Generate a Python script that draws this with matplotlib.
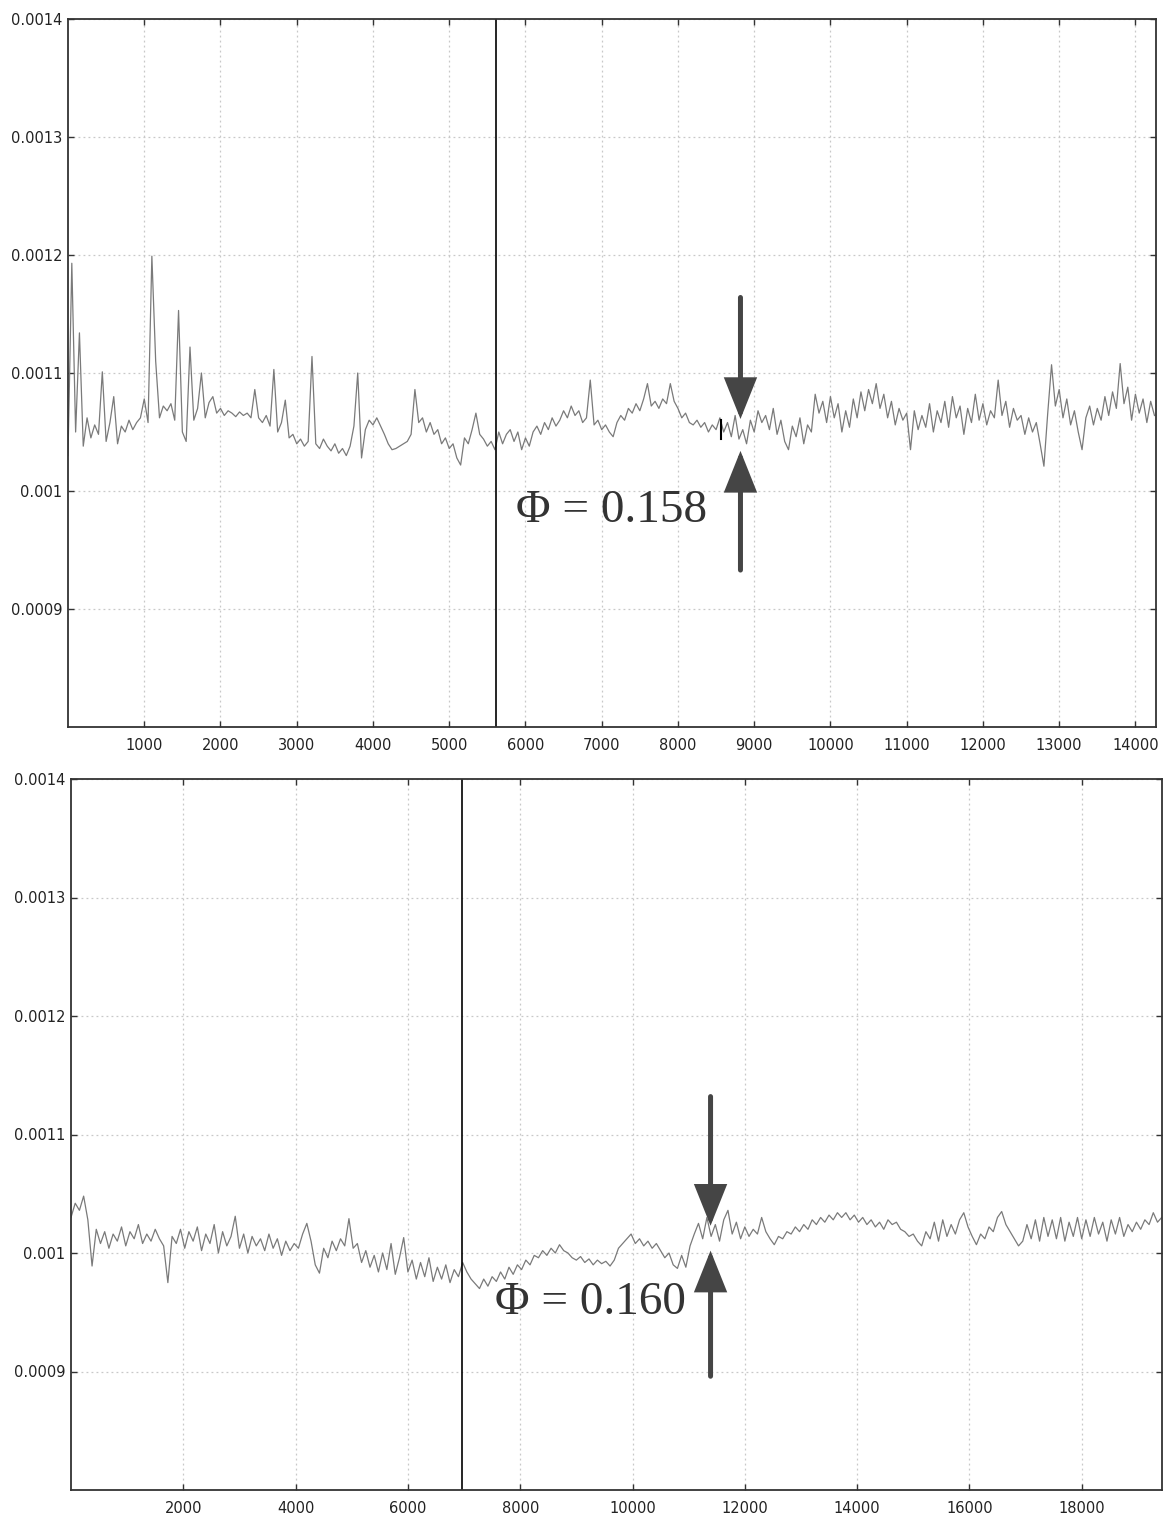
import numpy as np
import matplotlib
matplotlib.use("Agg")
import matplotlib.pyplot as plt

# ---------------- data (values in units of 1e-6) ----------------
top_step = 50
top_vals = [
    1030, 1193, 1050, 1134, 1038, 1062, 1045, 1056, 1048, 1101,
    1042, 1058, 1080, 1040, 1055, 1050, 1060, 1052, 1058, 1062,
    1078, 1058, 1199, 1110, 1062, 1072, 1068, 1074, 1060, 1153,
    1050, 1042, 1122, 1060, 1070, 1100, 1062, 1075, 1080, 1066,
    1070, 1064, 1068, 1066, 1063, 1067, 1064, 1066, 1062, 1086,
    1062, 1058, 1064, 1055, 1103, 1050, 1058, 1077, 1045, 1048,
    1040, 1044, 1038, 1042, 1114, 1040, 1036, 1044, 1038, 1034,
    1040, 1032, 1036, 1030, 1038, 1055, 1100, 1028, 1052, 1060,
    1056, 1062, 1055, 1048, 1040, 1035, 1036, 1038, 1040, 1042,
    1048, 1086, 1058, 1062, 1050, 1058, 1048, 1052, 1040, 1045,
    1036, 1040, 1028, 1022, 1045, 1040, 1052, 1066, 1048, 1044,
    1038, 1042, 1035, 1050, 1040, 1048, 1052, 1042, 1050, 1035,
    1045, 1038, 1050, 1055, 1048, 1058, 1052, 1062, 1055, 1060,
    1068, 1062, 1072, 1064, 1068, 1058, 1062, 1094, 1056, 1060,
    1052, 1056, 1050, 1046, 1058, 1064, 1060, 1070, 1066, 1074,
    1068, 1078, 1091, 1072, 1076, 1070, 1078, 1074, 1091, 1076,
    1070, 1062, 1066, 1058, 1056, 1060, 1054, 1058, 1050, 1056,
    1052, 1062, 1050, 1058, 1046, 1064, 1044, 1052, 1040, 1060,
    1050, 1068, 1058, 1064, 1052, 1070, 1048, 1060, 1042, 1035,
    1055, 1046, 1062, 1040, 1056, 1050, 1082, 1066, 1076, 1058,
    1080, 1062, 1074, 1050, 1068, 1054, 1078, 1062, 1084, 1068,
    1086, 1074, 1091, 1070, 1082, 1062, 1076, 1056, 1070, 1060,
    1066, 1035, 1068, 1052, 1064, 1054, 1074, 1050, 1068, 1058,
    1076, 1054, 1080, 1062, 1072, 1048, 1070, 1058, 1082, 1060,
    1074, 1056, 1068, 1062, 1094, 1064, 1076, 1054, 1070, 1060,
    1064, 1048, 1062, 1050, 1058, 1040, 1021, 1066, 1107, 1072,
    1086, 1062, 1078, 1056, 1068, 1050, 1035, 1062, 1072, 1056,
    1070, 1060, 1080, 1064, 1084, 1070, 1108, 1074, 1088, 1060,
    1082, 1066, 1078, 1058, 1076, 1064,
]

bot_step = 75
bot_vals = [
    1030, 1042, 1036, 1048, 1028, 989, 1020, 1008, 1018, 1004,
    1016, 1010, 1022, 1006, 1018, 1012, 1024, 1008, 1016, 1010,
    1020, 1012, 1006, 975, 1014, 1008, 1020, 1004, 1018, 1010,
    1022, 1002, 1016, 1008, 1024, 1000, 1018, 1006, 1014, 1031,
    1004, 1016, 1000, 1014, 1006, 1012, 1002, 1016, 1004, 1012,
    998, 1010, 1002, 1008, 1004, 1016, 1025, 1010, 990, 983,
    1004, 996, 1010, 1002, 1012, 1006, 1029, 1004, 1008, 992,
    1002, 988, 998, 984, 1000, 986, 1008, 982, 996, 1013,
    984, 994, 978, 992, 980, 996, 976, 988, 978, 990,
    975, 986, 980, 992, 984, 978, 974, 970, 978, 972,
    980, 976, 984, 978, 988, 982, 990, 986, 994, 990,
    998, 996, 1002, 998, 1004, 1000, 1007, 1002, 1000, 996,
    994, 997, 992, 995, 990, 994, 991, 993, 989, 994,
    1004, 1008, 1012, 1016, 1008, 1012, 1006, 1010, 1004, 1008,
    1002, 996, 1000, 990, 987, 998, 988, 1006, 1016, 1025,
    1012, 1030, 1014, 1024, 1010, 1028, 1036, 1016, 1026, 1012,
    1022, 1014, 1020, 1016, 1030, 1018, 1012, 1007, 1014, 1012,
    1018, 1016, 1022, 1018, 1024, 1020, 1028, 1024, 1030, 1026,
    1032, 1028, 1034, 1030, 1034, 1028, 1032, 1026, 1030, 1024,
    1028, 1022, 1026, 1020, 1028, 1024, 1026, 1020, 1018, 1014,
    1016, 1010, 1006, 1018, 1012, 1026, 1010, 1028, 1014, 1024,
    1016, 1028, 1034, 1022, 1014, 1007, 1016, 1012, 1022, 1018,
    1030, 1035, 1024, 1018, 1012, 1006, 1010, 1024, 1012, 1028,
    1010, 1030, 1014, 1028, 1012, 1030, 1010, 1026, 1014, 1030,
    1012, 1028, 1014, 1030, 1016, 1026, 1010, 1028, 1016, 1030,
    1014, 1024, 1018, 1026, 1020, 1028, 1024, 1034, 1026, 1030,
]

top_xlim = (0, 14270)
bot_xlim = (0, 19430)
ylim = (800, 1400)
yticks = [900, 1000, 1100, 1200, 1300, 1400]
ytick_labels = ["0.0009", "0.001", "0.0011", "0.0012", "0.0013", "0.0014"]
top_xticks = list(range(1000, 14001, 1000))
bot_xticks = list(range(2000, 18001, 2000))

top_vline = 5620
bot_vline = 6960
top_marker = (8560, 1044, 1060)

top_arrow_x = 8820
top_down = (1164, 1061)   # tail, tip
top_up = (933, 1034)
bot_arrow_x = 11390
bot_down = (1132, 1023)
bot_up = (896, 1002)

top_label = ("\u03a6 = 0.158", 5880, 983)
bot_label = ("\u03a6 = 0.160", 7554, 958)

# ---------------- figure ----------------
scale = 1e-6
fig = plt.figure(figsize=(11.64, 15.20), dpi=100)
ax1 = fig.add_axes([68 / 1164, 1 - 727 / 1520, (1156 - 68) / 1164, (727 - 19) / 1520])
ax2 = fig.add_axes([71 / 1164, 1 - 1490 / 1520, (1162 - 71) / 1164, (1490 - 779) / 1520])

line_color = "#7a7a7a"
arrow_color = "#454545"


def style(ax, xlim, xticks):
    ax.set_xlim(*xlim)
    ax.set_ylim(ylim[0] * scale, ylim[1] * scale)
    ax.set_yticks([v * scale for v in yticks])
    ax.set_yticklabels(ytick_labels)
    ax.set_xticks(xticks)
    ax.set_xticklabels([str(t) for t in xticks])
    ax.grid(True, color="#c8c8c8", linestyle=(0, (1.5, 2.5)), linewidth=0.9)
    ax.tick_params(direction="in", length=4, width=1, top=True, right=True,
                   labelsize=10.5, labelcolor="#222222", colors="#333333")
    ax.tick_params(axis="x", pad=8)
    ax.tick_params(axis="y", pad=4)
    for s in ax.spines.values():
        s.set_linewidth(1.3)
        s.set_color("#333333")
    ax.set_axisbelow(True)


style(ax1, top_xlim, top_xticks)
style(ax2, bot_xlim, bot_xticks)

top_x = np.arange(len(top_vals)) * top_step
bot_x = np.arange(len(bot_vals)) * bot_step
ax1.plot(top_x, np.array(top_vals) * scale, color=line_color, lw=0.9)
ax2.plot(bot_x, np.array(bot_vals) * scale, color=line_color, lw=0.9)

ax1.axvline(top_vline, color="black", lw=1.2)
ax2.axvline(bot_vline, color="black", lw=1.2)
ax1.plot([top_marker[0]] * 2, [top_marker[1] * scale, top_marker[2] * scale],
         color="black", lw=1.5)


def arrow(ax, x, tail, tip):
    ax.annotate("", xy=(x, tip * scale), xytext=(x, tail * scale),
                arrowprops=dict(arrowstyle="-|>,head_length=0.9,head_width=0.36",
                                mutation_scale=26, lw=3.6, color=arrow_color,
                                shrinkA=0, shrinkB=0, joinstyle="miter"))


arrow(ax1, top_arrow_x, *top_down)
arrow(ax1, top_arrow_x, *top_up)
arrow(ax2, bot_arrow_x, *bot_down)
arrow(ax2, bot_arrow_x, *bot_up)

for ax, (txt, x, y) in ((ax1, top_label), (ax2, bot_label)):
    ax.text(x, y * scale, txt, family="Liberation Serif", fontsize=34,
            color="#333333", ha="left", va="center")

fig.savefig("out.png", dpi=100, facecolor="white")
